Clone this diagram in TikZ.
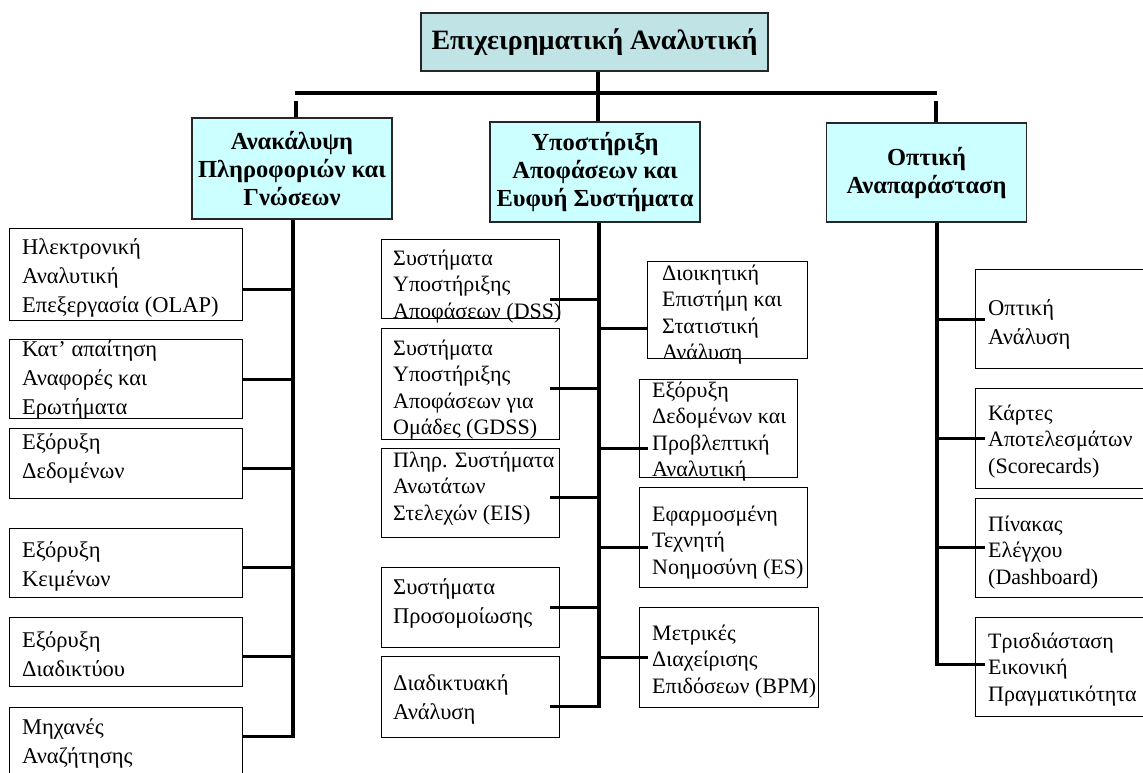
\documentclass[tikz,border=0pt]{standalone}
\usepackage{fontspec}
\setmainfont{Liberation Serif}
\definecolor{rootfill}{RGB}{192,228,230}
\definecolor{headfill}{RGB}{204,255,255}
\tikzset{
  rootbox/.style={draw=black!85, line width=1.8pt, fill=rootfill, inner sep=0pt,
    font=\bfseries\fontsize{28}{32}\selectfont},
  headbox/.style={draw=black!85, line width=1.8pt, fill=headfill, inner sep=0pt, align=center,
    font=\bfseries\fontsize{24.5}{28}\selectfont},
  leafbox/.style={draw=black, line width=1.4pt, fill=white, inner sep=0pt, anchor=north west},
  leaftext/.style={anchor=north west, inner sep=0pt, align=left},
  lcol/.style={font=\fontsize{22.5}{29}\selectfont},
  ocol/.style={font=\fontsize{22}{26.5}\selectfont},
  trunk/.style={draw=black, line width=3.2pt},
  bar/.style={draw=black, line width=4.2pt},
  conn/.style={draw=black, line width=3pt},
}
% box: name, x1, y1, x2, y2 (y grows downward)
\newcommand\leafbox[5]{%
  \pgfmathsetmacro\bw{#4-#2}\pgfmathsetmacro\bh{#5-#3}%
  \node[leafbox, minimum width=\bw pt, minimum height=\bh pt] (#1) at (#2,#3) {};}
% text: name, style, x, first baseline, lines
\newcommand\leaftxt[5]{%
  \node[leaftext, #2] (#1) at (#3,#4-22) {\rule{0pt}{22pt}#5};}
\begin{document}
\begin{tikzpicture}[x=1pt,y=-1pt]
\useasboundingbox (0,0) rectangle (1143,772);

% headers
\node[rootbox, minimum width=347pt, minimum height=58pt] (T) at (594.5,42) {Επιχειρηματική Αναλυτική};
\node[headbox, minimum width=200pt, minimum height=101pt] (Lh) at (292,168.5) {Ανακάλυψη\\Πληροφοριών και\\Γνώσεων};
\node[headbox, minimum width=210pt, minimum height=100pt] (Mh) at (595,172) {Υποστήριξη\\Αποφάσεων και\\Ευφυή Συστήματα};
\node[headbox, minimum width=200pt, minimum height=99pt] (Rh) at (926.5,172.5) {Οπτική\\Αναπαράσταση};

% junctions on the horizontal bar
\coordinate (jL) at (296,93);
\coordinate (jM) at (598,93);
\coordinate (jR) at (936,93);
\draw[bar] ([xshift=-1pt]jL) -- ([xshift=1pt]jR);
\draw[trunk] (T.south -| jM) -- (Mh.north -| jM);
\draw[trunk] ([yshift=-8pt]jL) -- (Lh.north -| jL);
\draw[trunk] ([yshift=-8pt]jR) -- (Rh.north -| jR);

% left column
\leafbox{L1}{9}{228}{242}{320}
\leafbox{L2}{9}{339}{242}{418}
\leafbox{L3}{9}{428}{242}{498}
\leafbox{L4}{9}{528}{242}{597}
\leafbox{L5}{9}{617}{242}{686}
\leafbox{L6}{9}{707}{242}{790}
\leaftxt{L1t}{lcol}{22}{254}{Ηλεκτρονική\\Αναλυτική\\Επεξεργασία (OLAP)}
\leaftxt{L2t}{lcol}{22}{356}{Κατ’ απαίτηση\\Αναφορές και\\Ερωτήματα}
\leaftxt{L3t}{lcol}{22}{449}{Εξόρυξη\\Δεδομένων}
\leaftxt{L4t}{lcol}{22}{557}{Εξόρυξη\\Κειμένων}
\leaftxt{L5t}{lcol}{22}{647}{Εξόρυξη\\Διαδικτύου}
\leaftxt{L6t}{lcol}{22}{734}{Μηχανές\\Αναζήτησης}

% middle column, left side
\leafbox{M1}{381}{239}{559}{318}
\leafbox{M2}{381}{328}{559}{439}
\leafbox{M3}{381}{448}{559}{537}
\leafbox{M4}{381}{567}{559}{647}
\leafbox{M5}{381}{656}{559}{737}
\leaftxt{M1t}{ocol}{393}{265}{Συστήματα\\Υποστήριξης\\Αποφάσεων (DSS)}
\leaftxt{M2t}{ocol}{393}{355}{Συστήματα\\Υποστήριξης\\Αποφάσεων για\\Ομάδες (GDSS)}
\leaftxt{M3t}{ocol}{393}{467}{Πληρ. Συστήματα\\Ανωτάτων\\Στελεχών (EIS)}
\leaftxt{M4t}{lcol}{393}{594}{Συστήματα\\Προσομοίωσης}
\leaftxt{M5t}{lcol}{393}{690}{Διαδικτυακή\\Ανάλυση}

% middle column, right side
\leafbox{N1}{647}{261}{807}{358}
\leafbox{N2}{639}{379}{797}{477}
\leafbox{N3}{639}{487}{807}{587}
\leafbox{N4}{639}{607}{818}{707}
\leaftxt{N1t}{ocol}{662}{280}{Διοικητική\\Επιστήμη και\\Στατιστική\\Ανάλυση}
\leaftxt{N2t}{ocol}{652}{397}{Εξόρυξη\\Δεδομένων και\\Προβλεπτική\\Αναλυτική}
\leaftxt{N3t}{ocol}{652}{521}{Εφαρμοσμένη\\Τεχνητή\\Νοημοσύνη (ES)}
\leaftxt{N4t}{ocol}{652}{640}{Μετρικές\\Διαχείρισης\\Επιδόσεων (BPM)}

% right column
\leafbox{R1}{975}{269}{1160}{368}
\leafbox{R2}{975}{388}{1160}{488}
\leafbox{R3}{975}{498}{1160}{597}
\leafbox{R4}{975}{617}{1160}{716}
\leaftxt{R1t}{lcol}{988}{315}{Οπτική\\Ανάλυση}
\leaftxt{R2t}{ocol}{988}{420}{Κάρτες\\Αποτελεσμάτων\\(Scorecards)}
\leaftxt{R3t}{ocol}{988}{531}{Πίνακας\\Ελέγχου\\(Dashboard)}
\leaftxt{R4t}{ocol}{988}{648}{Τρισδιάσταση\\Εικονική\\Πραγματικότητα}

% trunk points where the branches leave
\coordinate (cL1) at (293,289);
\coordinate (cL2) at (293,379);
\coordinate (cL3) at (293,468);
\coordinate (cL4) at (293,567);
\coordinate (cL5) at (293,656);
\coordinate (cL6) at (293,736);
\coordinate (cM1) at (599,299);
\coordinate (cM2) at (599,388);
\coordinate (cM3) at (599,497);
\coordinate (cM4) at (599,607);
\coordinate (cM5) at (599,706);
\coordinate (cN1) at (599,328);
\coordinate (cN2) at (599,448);
\coordinate (cN3) at (599,547);
\coordinate (cN4) at (599,657);
\coordinate (cR1) at (937,319);
\coordinate (cR2) at (937,438);
\coordinate (cR3) at (937,547);
\coordinate (cR4) at (937,664);

% vertical trunks
\draw[trunk] (Lh.south -| cL1) -- ([yshift=-1.5pt]cL6);
\draw[trunk] (Mh.south -| cM1) -- ([yshift=-1.5pt]cM5);
\draw[trunk] (Rh.south -| cR1) -- ([yshift=-1.5pt]cR4);

% branches
\foreach \n in {1,...,6} \draw[conn] (cL\n) -- (cL\n -| L\n.east);
\foreach \n in {1,...,5} \draw[conn] (cM\n) -- ([xshift=-10pt]cM\n -| M\n.east);
\draw[conn] (cN1) -- (cN1 -| N1.west);
\foreach \n in {2,3,4} \draw[conn] (cN\n) -- ([xshift=9pt]cN\n -| N\n.west);
\foreach \n in {1,...,4} \draw[conn] (cR\n) -- ([xshift=10pt]cR\n -| R\n.west);
\end{tikzpicture}
\end{document}
